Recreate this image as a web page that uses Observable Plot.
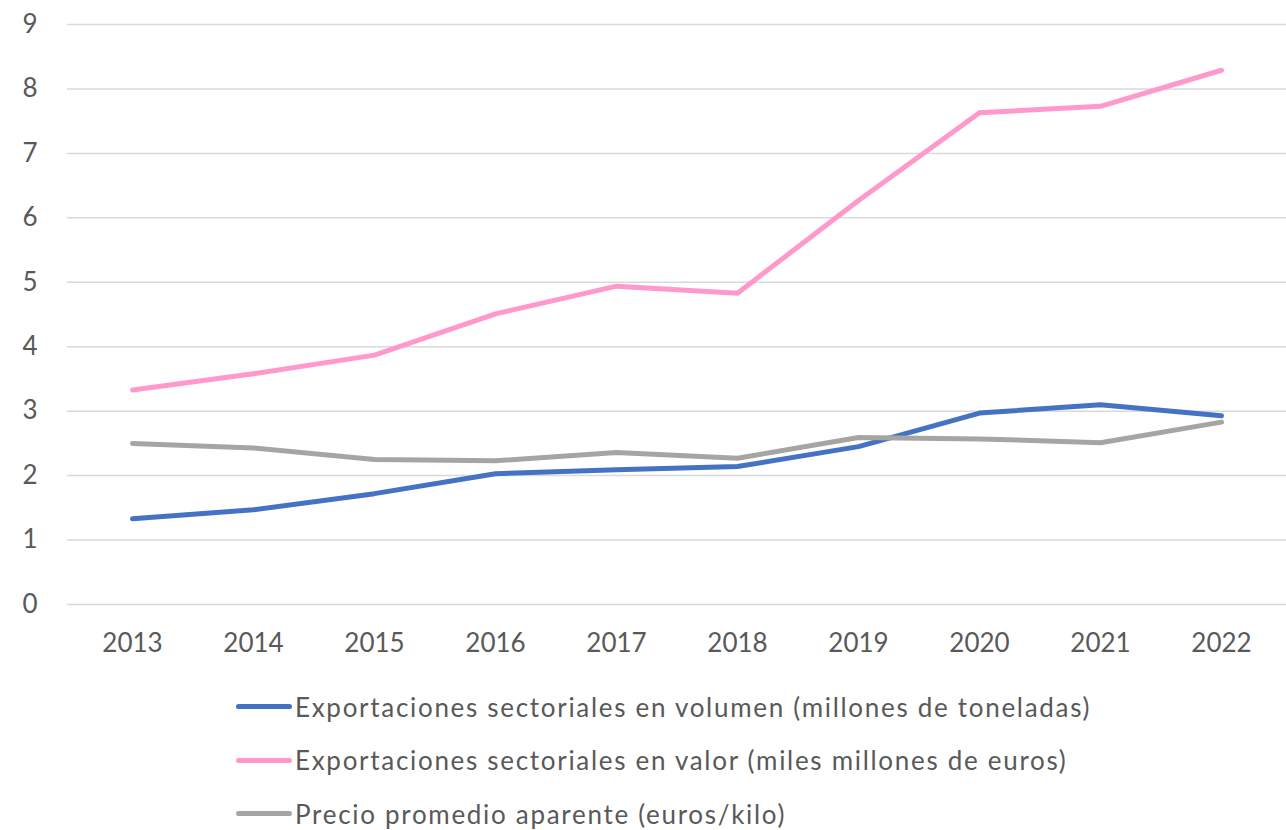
<!DOCTYPE html>
<html>
<head>
<meta charset="utf-8">
<script src="https://cdn.jsdelivr.net/npm/d3@7"></script>
<script src="https://cdn.jsdelivr.net/npm/@observablehq/plot@0.6"></script>
<style>
  html, body { margin: 0; padding: 0; background: #fff; }
  body { width: 1286px; height: 830px; overflow: hidden; font-family: Lato, "Open Sans", sans-serif; position: relative; }
  #legend { position: absolute; left: 236px; top: 680px; color: #595959; font-size: 26px; letter-spacing: 1.7px; }
  .row { display: flex; align-items: center; height: 53.5px; white-space: nowrap; }
  .sw { width: 56px; height: 5px; border-radius: 3px; margin-right: 3px; }
</style>
</head>
<body>
<div id="chart"></div>
<div id="legend"></div>
<script>
const years = ["2013","2014","2015","2016","2017","2018","2019","2020","2021","2022"];
const volumen = [1.33, 1.47, 1.72, 2.03, 2.09, 2.14, 2.45, 2.97, 3.10, 2.93];
const valor = [3.33, 3.58, 3.87, 4.51, 4.94, 4.83, 6.27, 7.63, 7.73, 8.29];
const precio = [2.50, 2.43, 2.25, 2.23, 2.36, 2.27, 2.59, 2.57, 2.51, 2.83];
const seriesNames = [
  "Exportaciones sectoriales en volumen (millones de toneladas)",
  "Exportaciones sectoriales en valor (miles millones de euros)",
  "Precio promedio aparente (euros/kilo)"
];
const seriesColors = ["#4472C4", "#FF99CC", "#A5A5A5"];
const yTicks = [0,1,2,3,4,5,6,7,8,9];

const seriesValues = [volumen, valor, precio];
const data = [];
seriesValues.forEach((vals, i) => vals.forEach((v, j) => data.push({year: years[j], value: v, series: seriesNames[i]})));

const chart = Plot.plot({
  width: 1286,
  height: 670,
  marginLeft: 67,
  marginRight: 0,
  marginTop: 24,
  marginBottom: 66,
  style: {fontFamily: "Lato, 'Open Sans', sans-serif", fontSize: "26px", color: "#595959", background: "#fff"},
  x: {type: "point", domain: years, padding: 0.5, label: null},
  y: {domain: [0, 9], ticks: yTicks, label: null},
  color: {domain: seriesNames, range: seriesColors},
  marks: [
    Plot.ruleY(yTicks, {stroke: "#d9d9d9", strokeWidth: 1.5}),
    Plot.axisX({tickSize: 0, tickPadding: 29, fontSize: 26, label: null}),
    Plot.axisY({ticks: yTicks, tickSize: 0, tickPadding: 30, fontSize: 26, label: null}),
    Plot.line(data, {x: "year", y: "value", z: "series", stroke: "series", strokeWidth: 5, strokeLinecap: "round", strokeLinejoin: "round"})
  ]
});
document.getElementById("chart").appendChild(chart);

const legend = document.getElementById("legend");
seriesNames.forEach((name, i) => {
  const row = document.createElement("div");
  row.className = "row";
  const sw = document.createElement("div");
  sw.className = "sw";
  sw.style.background = seriesColors[i];
  const t = document.createElement("span");
  t.textContent = name;
  row.appendChild(sw);
  row.appendChild(t);
  legend.appendChild(row);
});
</script>
</body>
</html>
